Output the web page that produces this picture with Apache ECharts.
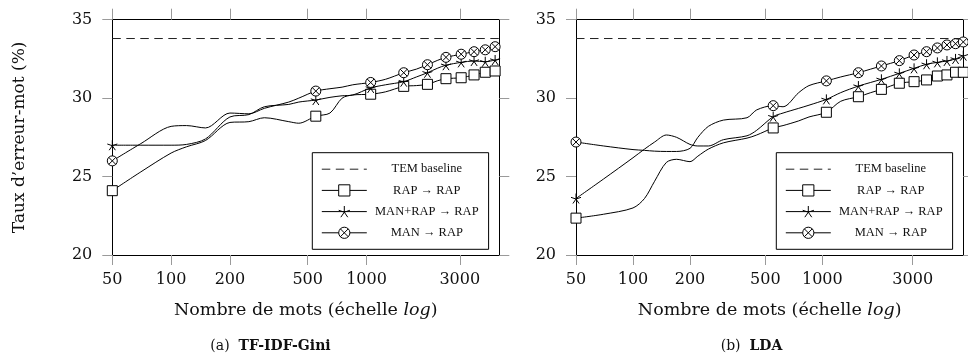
<!DOCTYPE html>
<html><head><meta charset="utf-8">
<script src="https://cdn.jsdelivr.net/npm/echarts@6/dist/echarts.min.js"></script>
<style>html,body{margin:0;padding:0;background:#fff}#c{width:968px;height:357px}</style>
</head><body><div id="c"></div>
<script>
// ---- data ----
const xTicks = [50, 100, 200, 500, 1000, 3000];
const yMin = 20, yMax = 35, yStep = 5;
const baselineValue = 33.8;
const seriesNames = ['TEM baseline', 'RAP \u2192 RAP', 'MAN+RAP \u2192 RAP', 'MAN \u2192 RAP'];
const markerX = [50, 550, 1050, 1550, 2050, 2550, 3050, 3550, 4050, 4550, 5050, 5550];
const captions = ['TF-IDF-Gini', 'LDA'];

// (a) TF-IDF-Gini
const xMaxA = 4780;
const xA = [50, 70, 100, 120, 150, 200, 250, 300, 400, 450, 550, 650, 750, 850, 1050, 1250, 1550, 1800, 2050, 2300, 2550, 3050, 3550, 4050, 4550, 4780];
const rapA = [24.1, 25.3, 26.5, 26.9, 27.3, 28.45, 28.5, 28.75, 28.5, 28.4, 28.85, 29.05, 30.0, 30.2, 30.25, 30.4, 30.75, 30.8, 30.88, 31.1, 31.24, 31.3, 31.48, 31.65, 31.73, 31.75];
const manRapA = [27.0, 27.0, 27.0, 27.05, 27.4, 28.8, 28.95, 29.45, 29.6, 29.75, 29.88, 30.05, 30.15, 30.2, 30.65, 30.85, 31.05, 31.35, 31.62, 31.9, 32.1, 32.28, 32.37, 32.32, 32.43, 32.5];
const manA = [26.0, 27.1, 28.2, 28.25, 28.1, 29.05, 29.0, 29.35, 29.75, 30.0, 30.45, 30.6, 30.7, 30.85, 31.0, 31.2, 31.62, 31.85, 32.13, 32.4, 32.6, 32.8, 32.96, 33.08, 33.28, 33.35];

// (b) LDA
const xMaxB = 5550;
const xB = [50, 70, 100, 115, 130, 150, 170, 200, 220, 250, 300, 400, 450, 550, 620, 750, 850, 1050, 1250, 1550, 1800, 2050, 2550, 3050, 3550, 4050, 4550, 5050, 5550];
const rapB = [22.35, 22.6, 23.0, 23.6, 24.7, 25.9, 26.1, 25.95, 26.3, 26.75, 27.15, 27.45, 27.65, 28.1, 28.25, 28.55, 28.8, 29.1, 29.8, 30.09, 30.35, 30.56, 30.95, 31.05, 31.16, 31.41, 31.48, 31.65, 31.65];
const manRapB = [23.6, 24.85, 26.2, 26.75, 27.2, 27.65, 27.5, 27.05, 26.95, 26.95, 27.35, 27.6, 27.95, 28.82, 29.05, 29.35, 29.55, 29.92, 30.35, 30.77, 31.0, 31.2, 31.58, 31.9, 32.16, 32.28, 32.37, 32.5, 32.71];
const manB = [27.2, 26.95, 26.72, 26.67, 26.62, 26.6, 26.6, 26.8, 27.5, 28.2, 28.6, 28.75, 29.25, 29.52, 29.45, 30.35, 30.8, 31.1, 31.35, 31.62, 31.85, 32.05, 32.39, 32.75, 32.96, 33.2, 33.39, 33.47, 33.58];

// ---- styling ----
const SERIF = 'DejaVu Serif';
const LEG = 'Liberation Serif';
const TXT = '#111';
const TICK = '#9a9a9a';
const symStar = 'path://M0,0L0,-5M0,0L4.76,-1.55M0,0L2.94,4.05M0,0L-2.94,4.05M0,0L-4.76,-1.55';
const symOtimes = 'path://M5,0A5,5,0,1,1,-5,0A5,5,0,1,1,5,0ZM-3.54,-3.54L3.54,3.54M-3.54,3.54L3.54,-3.54';
const symbols = ['rect', symStar, symOtimes];

const grids = [
  {left: 112.3, top: 19.7, width: 387, height: 235.3},
  {left: 576, top: 19.7, width: 387.3, height: 235.3}
];
const xMaxes = [xMaxA, xMaxB];

const xAxis = [], yAxis = [];
for (let g = 0; g < 2; g++) {
  const common = {
    gridIndex: g, type: 'log', logBase: 10, min: 50, max: xMaxes[g],
    axisLine: {onZero: false, lineStyle: {color: '#000', width: 1}},
    axisTick: {show: true, customValues: xTicks, length: 10, lineStyle: {color: TICK, width: 1}},
    splitLine: {show: false}, minorTick: {show: false}
  };
  xAxis.push(Object.assign({}, common, {
    position: 'bottom',
    axisLabel: {customValues: xTicks, margin: 17, fontFamily: SERIF, fontSize: 16, color: TXT,
      formatter: v => String(Math.round(v))},
    name: 'Nombre de mots (\u00e9chelle {i|log})', nameLocation: 'middle', nameGap: 46,
    nameTextStyle: {fontFamily: SERIF, fontSize: 17.5, color: TXT,
      rich: {i: {fontFamily: SERIF, fontStyle: 'italic', fontSize: 17.5, color: TXT}}}
  }));
  xAxis.push(Object.assign({}, common, {
    position: 'top', axisLabel: {show: false}, axisTick: {show: true, customValues: xTicks, length: 11, lineStyle: {color: TICK, width: 1}}
  }));
  const yc = {
    gridIndex: g, type: 'value', min: yMin, max: yMax, interval: yStep,
    axisLine: {show: true, onZero: false, lineStyle: {color: '#000', width: 1}},
    axisTick: {show: true, length: 10, lineStyle: {color: TICK, width: 1}},
    splitLine: {show: false}
  };
  const yl = Object.assign({}, yc, {
    position: 'left',
    axisLabel: {margin: 20, fontFamily: SERIF, fontSize: 16, color: TXT}
  });
  if (g === 0) {
    Object.assign(yl, {name: 'Taux d\u2019erreur-mot (%)', nameLocation: 'middle', nameGap: 84,
      nameTextStyle: {fontFamily: SERIF, fontSize: 17, color: TXT}});
  }
  yAxis.push(yl);
  yAxis.push(Object.assign({}, yc, {position: 'right', axisLabel: {show: false}}));
}

function mkData(xs, ys) {
  return xs.map((x, i) => markerX.indexOf(x) >= 0 ? {value: [x, ys[i]]} : {value: [x, ys[i]], symbol: 'none'});
}
const series = [];
const sets = [[rapA, manRapA, manA, xA], [rapB, manRapB, manB, xB]];
for (let g = 0; g < 2; g++) {
  const xs = sets[g][3];
  series.push({
    type: 'line', name: seriesNames[0], xAxisIndex: g * 2, yAxisIndex: g * 2,
    data: [[50, baselineValue], [xMaxes[g], baselineValue]],
    symbol: 'none', lineStyle: {color: '#222', width: 1, type: [8.5, 5.5]},
    itemStyle: {color: 'rgba(0,0,0,0)', borderColor: 'rgba(0,0,0,0)', borderWidth: 0},
    animation: false, silent: true
  });
  for (let s = 0; s < 3; s++) {
    series.push({
      type: 'line', name: seriesNames[s + 1], xAxisIndex: g * 2, yAxisIndex: g * 2,
      data: mkData(xs, sets[g][s]),
      symbol: symbols[s], symbolSize: 10, showAllSymbol: true,
      smooth: 0.3,
      lineStyle: {color: '#000', width: 1},
      itemStyle: {color: '#fff', borderColor: '#000', borderWidth: 1},
      animation: false, silent: true, z: 3 + s
    });
  }
}

const legendBase = {
  orient: 'vertical', top: 152.7, itemWidth: 45, itemHeight: 14, itemGap: 8.2,
  padding: [10, 10, 10, 9], backgroundColor: '#fff', borderColor: '#000', borderWidth: 1,
  selectedMode: false, data: seriesNames,
  lineStyle: {width: 1},
  itemStyle: {borderWidth: 1},
  formatter: n => '{t|' + n + '}',
  textStyle: {fontFamily: LEG, fontSize: 12.5, color: TXT,
    rich: {t: {width: 110, align: 'center', fontFamily: LEG, fontSize: 12.5, color: TXT}}}
};

const chart = echarts.init(document.getElementById('c'), null, {renderer: 'canvas'});
chart.setOption({
  animation: false,
  backgroundColor: '#fff',
  grid: grids,
  xAxis: xAxis, yAxis: yAxis,
  legend: [Object.assign({}, legendBase, {left: 312.3}), Object.assign({}, legendBase, {left: 776.3})],
  series: series,
  graphic: [
    {type: 'text', x: 270.5, y: 346.7, style: {text: '(a)  {b|' + captions[0] + '}', align: 'center', verticalAlign: 'middle',
      font: '14px "DejaVu Serif"', fill: TXT, rich: {b: {fontFamily: SERIF, fontWeight: 'bold', fontSize: 14, fill: TXT}}}},
    {type: 'text', x: 751.5, y: 346.7, style: {text: '(b)  {b|' + captions[1] + '}', align: 'center', verticalAlign: 'middle',
      font: '14px "DejaVu Serif"', fill: TXT, rich: {b: {fontFamily: SERIF, fontWeight: 'bold', fontSize: 14, fill: TXT}}}}
  ]
});
</script>
</body></html>
